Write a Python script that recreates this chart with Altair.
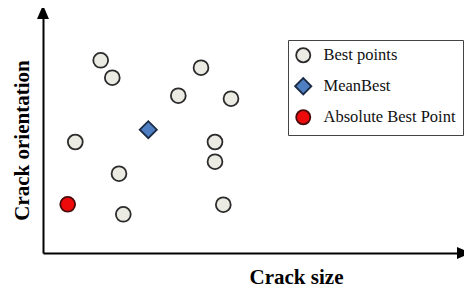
import altair as alt
import pandas as pd

# Values (arbitrary units, origin at the axes' corner)
best_x = [57.7, 69.3, 158, 135.3, 188, 32.3, 172, 172, 76, 80.3, 180.3]
best_y = [192.7, 175.3, 185.3, 157.3, 154.3, 111, 111, 91.3, 79.3, 38.7, 48.3]
mean_x = [105.3]
mean_y = [123.3]
abs_x = [24.7]
abs_y = [48.7]

types = ["Best points", "MeanBest", "Absolute Best Point"]
fills = ["#ebebe3", "#4d7fc2", "#ee0a0a"]
strokes = ["#2b2b2b", "#1c2b45", "#4a0a0a"]
shapes = ["circle", "M-1.15,0L0,-1.15L1.15,0L0,1.15Z", "circle"]

XMAX, YMAX = 421, 241

df = pd.DataFrame({
    "x": best_x + mean_x + abs_x,
    "y": best_y + mean_y + abs_y,
    "type": [types[0]] * len(best_x) + [types[1]] * len(mean_x) + [types[2]] * len(abs_x),
})

xs = alt.Scale(domain=[0, XMAX], nice=False, zero=False)
ys = alt.Scale(domain=[0, YMAX], nice=False, zero=False)

FONT = "Liberation Serif"

x_axis = alt.Axis(
    title="Crack size", labels=False, ticks=False, grid=False,
    domainColor="#000", domainWidth=2,
    titleFont=FONT, titleFontSize=21, titleFontWeight="bold", titleColor="#000",
    titleX=253, titleY=30, titleAlign="center", titleBaseline="alphabetic",
)
y_axis = alt.Axis(
    title="Crack orientation", labels=False, ticks=False, grid=False,
    domainColor="#000", domainWidth=2,
    titleFont=FONT, titleFontSize=21, titleFontWeight="bold", titleColor="#000",
    titleX=-15, titleY=128, titleAlign="center", titleBaseline="alphabetic", titleAngle=-90,
)

points = alt.Chart(df).mark_point(filled=True, opacity=1, strokeWidth=1.8, size=220).encode(
    x=alt.X("x:Q", scale=xs, axis=x_axis),
    y=alt.Y("y:Q", scale=ys, axis=y_axis),
    fill=alt.Fill("type:N", scale=alt.Scale(domain=types, range=fills), title=None),
    stroke=alt.Stroke("type:N", scale=alt.Scale(domain=types, range=strokes), title=None),
    shape=alt.Shape("type:N", scale=alt.Scale(domain=types, range=shapes), title=None),
)

arrow_up = alt.Chart(pd.DataFrame({"x": [0], "y": [YMAX]})).mark_point(
    shape="M0,-1L-0.85,1L0.85,1Z", filled=True, color="#000", size=196, opacity=1
).encode(x=alt.X("x:Q", scale=xs), y=alt.Y("y:Q", scale=ys))

arrow_right = alt.Chart(pd.DataFrame({"x": [XMAX], "y": [0]})).mark_point(
    shape="M1,0L-1,-0.85L-1,0.85Z", filled=True, color="#000", size=196, opacity=1
).encode(x=alt.X("x:Q", scale=xs), y=alt.Y("y:Q", scale=ys))

chart = alt.layer(points, arrow_up, arrow_right).properties(
    width=XMAX, height=YMAX,
    autosize=alt.AutoSizeParams(type="none"),
    padding={"left": 35, "top": 4, "right": 0, "bottom": 34},
).configure_view(stroke=None).configure_legend(
    orient="none", legendX=245, legendY=28,
    strokeColor="#444", fillColor="#fff",
    padding=7, labelOffset=12, rowPadding=8,
    labelFont=FONT, labelFontSize=16.5, labelColor="#111",
    symbolSize=200, symbolStrokeWidth=1.8,
)

chart.save("out.html", embed_options={"renderer": "svg", "actions": False})
